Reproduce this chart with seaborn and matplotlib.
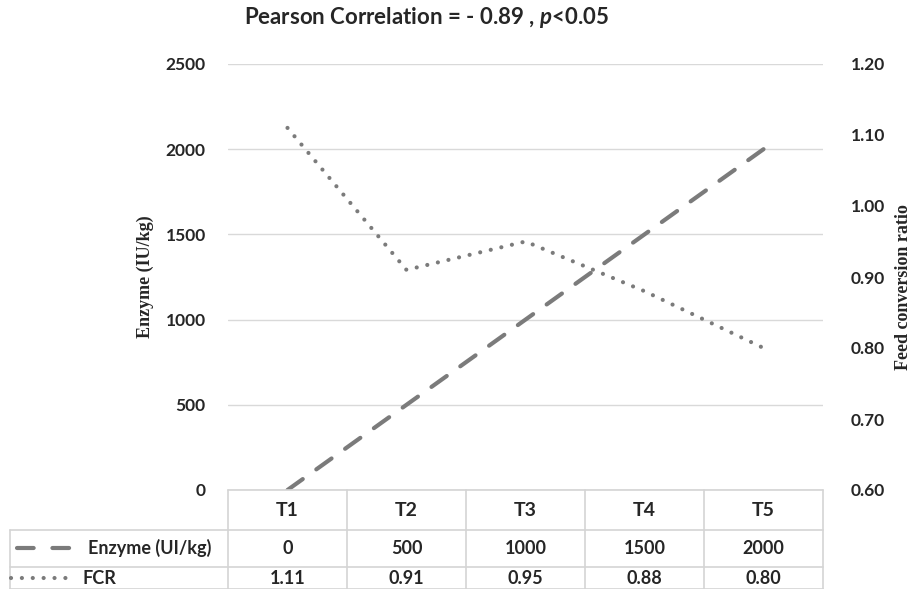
import numpy as np
import pandas as pd
import matplotlib
matplotlib.use('Agg')
import matplotlib.pyplot as plt
from matplotlib.lines import Line2D
import seaborn as sns

# data
treatments = ['T1', 'T2', 'T3', 'T4', 'T5']
enzyme = [0, 500, 1000, 1500, 2000]
fcr = [1.11, 0.91, 0.95, 0.88, 0.80]
enzyme_ticks = [0, 500, 1000, 1500, 2000, 2500]
fcr_ticks = [0.60, 0.70, 0.80, 0.90, 1.00, 1.10, 1.20]

sns.set_style('white')
plt.rcParams['font.family'] = ['Lato', 'DejaVu Sans']
plt.rcParams['mathtext.fontset'] = 'custom'
plt.rcParams['mathtext.it'] = 'Lato:italic:bold'
plt.rcParams['mathtext.rm'] = 'Lato:bold'

df = pd.DataFrame({'pos': np.arange(len(treatments)), 'treatment': treatments,
                   'enzyme': enzyme, 'fcr': fcr})

W, H = 912, 589
fig = plt.figure(figsize=(W / 100, H / 100), dpi=100)
x0, x1, ytop, ybot = 228, 823, 64, 490
ax = fig.add_axes([x0 / W, 1 - ybot / H, (x1 - x0) / W, (ybot - ytop) / H])
ax2 = ax.twinx()

grey = '#7b7b7b'
grid_col = '#d9d9d9'

sns.lineplot(data=df, x='pos', y='enzyme', ax=ax, color=grey, lw=3, legend=False)
sns.lineplot(data=df, x='pos', y='fcr', ax=ax2, color=grey, lw=3, legend=False)
l1 = ax.lines[0]
l1.set_dashes((4.5, 4))
l1.set_dash_capstyle('round')
l2 = ax2.lines[0]
l2.set_dashes((0.01, 2.6))
l2.set_dash_capstyle('round')

ax.set_xlim(-0.5, len(treatments) - 0.5)
ax.set_ylim(0, 2500)
ax2.set_ylim(0.6, 1.2)
ax.set_xticks([])
ax.set_xlabel('')
ax.set_yticks(enzyme_ticks)
ax2.set_yticks(fcr_ticks)
ax2.set_yticklabels([f'{v:.2f}' for v in fcr_ticks])
ax.yaxis.grid(True, color=grid_col, lw=1)
ax.xaxis.grid(False)
ax2.grid(False)
for a in (ax, ax2):
    for s in a.spines.values():
        s.set_visible(False)
ax.tick_params(axis='y', length=0, pad=16, labelsize=12.5)
ax2.tick_params(axis='y', length=0, pad=20, labelsize=12.5)
for t in ax.get_yticklabels() + ax2.get_yticklabels():
    t.set_fontweight('bold')

serif = ['Liberation Serif', 'DejaVu Serif']
ax.set_ylabel('Enzyme (IU/kg)', family=serif, fontweight='bold', fontsize=13, va='center')
ax.yaxis.set_label_coords((145 - x0) / (x1 - x0), 0.5)
ax2.set_ylabel('Feed conversion ratio', family=serif, fontweight='bold',
               fontsize=13, rotation=90, va='center')
ax2.yaxis.set_label_coords((904 - x0) / (x1 - x0), 0.477)

fig.text(426 / W, 1 - 18 / H, r'Pearson Correlation = - 0.89 , $\mathit{p}$<0.05',
         ha='center', va='center', fontsize=16, fontweight='bold')

# data table under the plot
tab_col = '#d4d4d4'


def hline(y, xa, xb):
    fig.add_artist(Line2D([xa / W, xb / W], [1 - y / H, 1 - y / H], color=tab_col, lw=1.2))


def vline(x, ya, yb):
    fig.add_artist(Line2D([x / W, x / W], [1 - ya / H, 1 - yb / H], color=tab_col, lw=1.2))


col_w = (x1 - x0) / len(treatments)
hline(ybot, x0, x1)
hline(530, 10, x1)
hline(567, 10, x1)
hline(588.5, 10, x1)
vline(10, 530, 589)
for i in range(len(treatments) + 1):
    vline(x0 + i * col_w, ybot, 589)

for i, t in enumerate(treatments):
    cx = (x0 + (i + 0.5) * col_w) / W
    fig.text(cx, 1 - 511 / H, t, ha='center', va='center', fontsize=14, fontweight='bold')
    fig.text(cx, 1 - 548 / H, f'{enzyme[i]}', ha='center', va='center', fontsize=13,
             fontweight='bold')
    fig.text(cx, 1 - 578 / H, f'{fcr[i]:.2f}', ha='center', va='center', fontsize=13,
             fontweight='bold')

# legend keys inside the table
k1 = Line2D([17 / W, 73 / W], [1 - 548 / H, 1 - 548 / H], color=grey, lw=3)
k1.set_dashes((4, 4.5))
k1.set_dash_capstyle('round')
fig.add_artist(k1)
k2 = Line2D([11 / W, 73 / W], [1 - 578 / H, 1 - 578 / H], color=grey, lw=3)
k2.set_dashes((0.01, 2.6))
k2.set_dash_capstyle('round')
fig.add_artist(k2)
fig.text(88 / W, 1 - 548 / H, 'Enzyme (UI/kg)', ha='left', va='center', fontsize=13,
         fontweight='bold')
fig.text(83 / W, 1 - 578 / H, 'FCR', ha='left', va='center', fontsize=13,
         fontweight='bold')

fig.savefig('out.png', dpi=100)
